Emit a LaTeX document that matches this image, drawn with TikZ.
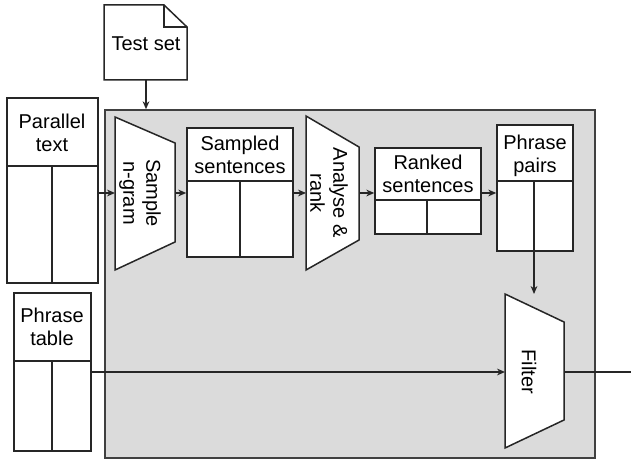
\documentclass[tikz,border=0pt]{standalone}
\usepackage{fontspec}
\setmainfont{Liberation Sans}
\usetikzlibrary{fit,arrows.meta}
\begin{document}
\begin{tikzpicture}[x=0.5pt,y=-0.5pt,
  outline/.style={draw=black!85,line width=0.75pt},
  card/.style={outline,fill=white,inner sep=0pt},
  panel/.style={draw=black!75,line width=0.75pt,fill=black!14,inner sep=0pt},
  label/.style={font=\fontsize{10}{11.5}\selectfont,align=center,inner sep=0pt},
  rlabel/.style={label,rotate=-90},
  flow/.style={line width=0.6pt,draw=black!85,-{Stealth[length=4pt,width=3.4pt]}},
  wire/.style={line width=0.6pt,draw=black!85}]
\useasboundingbox (0,0) rectangle (631,459);

% processing area
\node[panel,fit={(105,110)(595,458)}] (area) {};

% test set document with folded corner
\draw[outline,fill=white] (104,5) -- (164,5) -- (187,27) -- (187,80) -- (104,80) -- cycle;
\draw[outline] (164,5) -- (164,27) -- (187,27);
\coordinate (testfoot) at (146,80);
\node[label] (testset) at (146,44) {Test set};

% parallel text table
\node[card,fit={(7,98)(98,283)}] (par) {};
\draw[outline] (7,166) -- (98,166);
\draw[outline] (52,166) -- (52,283);
\node[label] (partxt) at (52,133) {Parallel\\text};

% phrase table
\node[card,fit={(14,293)(91,451)}] (ptab) {};
\draw[outline] (14,361) -- (91,361);
\draw[outline] (52,361) -- (52,451);
\node[label] (ptabtxt) at (52,327) {Phrase\\table};

% sample n-gram stage
\draw[outline,fill=white] (115,117) -- (175,143) -- (175,242) -- (115,270) -- cycle;
\coordinate (ngin) at (115,193);
\coordinate (ngout) at (175,193);
\node[rlabel] (ngram) at (140,193) {Sample\\n-gram};

% sampled sentences table
\node[card,fit={(187,128)(293,257)}] (samp) {};
\draw[outline] (187,181) -- (293,181);
\draw[outline] (240,181) -- (240,257);
\node[label] (samptxt) at (240,155) {Sampled\\sentences};

% analyse and rank stage
\draw[outline,fill=white] (306,116) -- (359,147) -- (359,240) -- (306,270) -- cycle;
\coordinate (anin) at (306,193);
\coordinate (anout) at (359,193);
\node[rlabel] (analyse) at (329,193) {Analyse \&\\rank};

% ranked sentences table
\node[card,fit={(375,148)(481,234)}] (rank) {};
\draw[outline] (375,200) -- (481,200);
\draw[outline] (427,200) -- (427,234);
\node[label] (ranktxt) at (428,174) {Ranked\\sentences};

% phrase pairs table
\node[card,fit={(497,125)(573,251)}] (pairs) {};
\draw[outline] (497,181) -- (573,181);
\coordinate (pairsdiv) at (534,181);
\node[label] (pairstxt) at (535,156) {Phrase\\pairs};

% filter stage
\draw[outline,fill=white] (505,294) -- (564,322) -- (564,420) -- (505,448) -- cycle;
\coordinate (filtin) at (505,372);
\coordinate (filtout) at (564,372);
\coordinate (filttop) at (534,294);
\node[rlabel] (filter) at (529,372) {Filter};
\coordinate (exit) at (631,372);

% connectors
\draw[flow] (testfoot) -- (testfoot |- area.north);
\draw[flow] (par.east |- ngin) -- (ngin);
\draw[flow] (ngout) -- (samp.west |- ngout);
\draw[flow] (samp.east |- anin) -- (anin);
\draw[flow] (anout) -- (rank.west |- anout);
\draw[flow] (rank.east |- anout) -- (pairs.west |- anout);
\draw[flow] (pairsdiv) -- (filttop);
\draw[flow] (ptab.east |- filtin) -- (filtin);
\draw[wire] (filtout) -- (exit);
\end{tikzpicture}
\end{document}
